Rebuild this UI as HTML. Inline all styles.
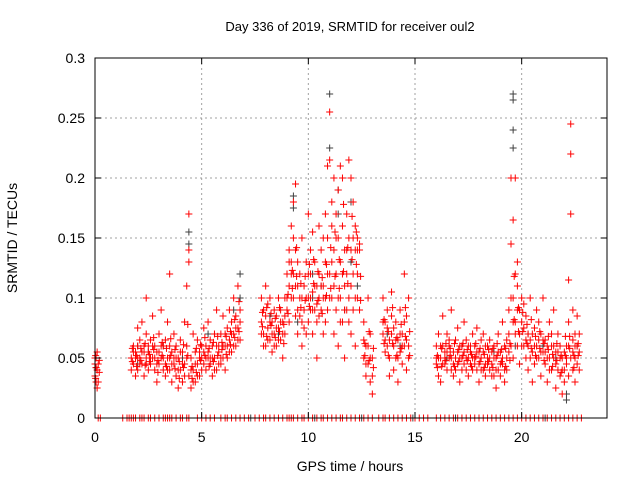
<!DOCTYPE html>
<html><head><meta charset="utf-8">
<style>
html,body{margin:0;padding:0;background:#fff;}
svg{display:block;font-family:"Liberation Sans",sans-serif;}
</style></head>
<body>
<svg id="chart" width="640" height="480" viewBox="0 0 640 480" xmlns="http://www.w3.org/2000/svg">
<text x="350" y="31" font-size="13" text-anchor="middle">Day 336 of 2019, SRMTID for receiver oul2</text>
<text x="350" y="471" font-size="14" text-anchor="middle">GPS time / hours</text>
<text x="17" y="238" font-size="14" text-anchor="middle" transform="rotate(-90 17 238)">SRMTID / TECUs</text>
<g id="grid"></g><g id="marks"></g><g id="axes"></g>
</svg>
<script>
const xTicks=[0,5,10,15,20];
const yTicks=[0,0.05,0.1,0.15,0.2,0.25,0.3];
const yTickLabels=["0","0.05","0.1","0.15","0.2","0.25","0.3"];
const redTimes=[0,0.05,0.1,0.15,0.2,1.7,1.8,1.9,2.0,2.1,2.2,2.3,2.4,2.5,2.6,2.7,2.8,2.9,3.0,3.1,3.2,3.3,3.4,3.5,3.6,3.7,3.8,3.9,4.0,4.1,4.2,4.3,4.4,4.5,4.6,4.7,4.8,4.9,5.0,5.1,5.2,5.3,5.4,5.5,5.6,5.7,5.8,5.9,6.0,6.1,6.2,6.3,6.4,6.5,6.6,6.7,6.8,7.8,7.9,8.0,8.1,8.2,8.3,8.4,8.5,8.6,8.7,8.8,8.9,9.0,9.1,9.2,9.3,9.4,9.5,9.6,9.7,9.8,9.9,10.0,10.1,10.2,10.3,10.4,10.5,10.6,10.7,10.8,10.9,11.0,11.1,11.2,11.3,11.4,11.5,11.6,11.7,11.8,11.9,12.0,12.1,12.2,12.3,12.4,12.6,12.7,12.8,12.9,13.0,13.5,13.6,13.7,13.8,13.9,14.0,14.1,14.2,14.3,14.4,14.5,14.6,14.7,16.0,16.1,16.2,16.3,16.4,16.5,16.6,16.7,16.8,16.9,17.0,17.1,17.2,17.3,17.4,17.5,17.6,17.7,17.8,17.9,18.0,18.1,18.2,18.3,18.4,18.5,18.6,18.7,18.8,18.9,19.0,19.1,19.2,19.3,19.4,19.5,19.6,19.7,19.8,19.9,20.0,20.1,20.2,20.3,20.4,20.5,20.6,20.7,20.8,20.9,21.0,21.1,21.2,21.3,21.4,21.5,21.6,21.7,21.8,21.9,22.0,22.1,22.2,22.3,22.4,22.5,22.6,22.7];
const redValues=[[.045,.035,.05],[.05,.03,.042],[.04,.055,.025],[.03,.045],[.038,.048],[.05,.04],[.045,.06,.055],[.055,.035,.05],[.06,.04,.075,.05],[.05,.065,.045],[.045,.08,.055],[.055,.035,.06],[.05,.07,.1,.045],[.04,.06,.055],[.065,.045,.05],[.05,.085,.06],[.04,.06,.05],[.055,.03,.045],[.07,.045,.055],[.05,.09,.06],[.04,.06,.05],[.065,.035,.045],[.05,.08,.04],[.04,.06,.12,.05],[.055,.03,.045],[.045,.07,.05],[.06,.035,.05],[.05,.025,.04],[.04,.065,.055],[.03,.055,.045],[.045,.08,.035],[.06,.11,.05],[.14,.17,.035,.13],[.05,.025,.04],[.04,.07,.03],[.03,.055,.045],[.045,.065,.035],[.05,.035,.055],[.06,.04,.05],[.055,.075,.045],[.04,.06,.05],[.05,.08,.055],[.045,.065,.05],[.06,.035,.05],[.05,.07,.04],[.04,.09,.06],[.055,.06,.045],[.07,.045,.05],[.05,.085,.06],[.06,.04,.07],[.075,.05,.06],[.065,.09,.055],[.055,.08,.07],[.07,.1,.06],[.06,.085,.075],[.075,.11,.065],[.065,.09,.08],[.08,.1,.07],[.07,.09,.06],[.06,.085,.11],[.075,.095,.065],[.065,.1,.08],[.08,.055,.07],[.07,.09,.06],[.085,.06,.075],[.075,.1,.065],[.065,.09,.08],[.08,.05,.07],[.07,.1,.085],[.09,.12,.1],[.11,.14,.08,.13],[.13,.16,.1,.12],[.15,.18,.12,.1],[.195,.11,.14,.085],[.09,.13,.07,.11],[.1,.12,.085],[.08,.15,.06,.1],[.11,.09,.075],[.13,.07,.1],[.1,.17,.08,.12],[.12,.14,.09,.1],[.105,.155,.07,.09],[.09,.13,.11],[.08,.11,.05,.095],[.12,.16,.1,.085],[.09,.14,.11],[.07,.11,.15,.1],[.13,.1,.17,.08],[.15,.21,.09,.12],[.215,.255,.12,.1],[.16,.18,.1,.13],[.2,.14,.07,.11],[.12,.17,.09,.15],[.19,.15,.06,.1],[.21,.13,.1,.08],[.16,.2,.08,.12],[.14,.11,.05,.09],[.17,.12,.09,.14],[.215,.15,.1,.08],[.2,.14,.07,.11],[.18,.12,.09,.15],[.16,.14,.06,.1],[.15,.12,.1,.14],[.14,.09,.145],[.05,.08,.065],[.035,.06,.045],[.045,.1,.06],[.03,.07,.05],[.05,.02,.035],[.07,.1,.08],[.055,.08,.065],[.06,.09,.075],[.05,.035,.065],[.07,.105,.085],[.06,.04,.075],[.08,.05,.065],[.065,.03,.05],[.09,.055,.07],[.07,.045,.06],[.12,.06,.08],[.085,.04,.065],[.06,.1,.05],[.045,.06,.05],[.035,.07,.05],[.05,.03,.06],[.06,.085,.045],[.045,.055,.05],[.07,.04,.055],[.05,.065,.06],[.04,.09,.05],[.055,.035,.045],[.065,.05,.04],[.045,.075,.055],[.05,.03,.06],[.06,.04,.05],[.055,.08,.045],[.04,.065,.05],[.05,.035,.06],[.06,.045,.055],[.07,.05,.04],[.045,.06,.05],[.04,.075,.055],[.055,.03,.045],[.05,.065,.04],[.04,.07,.055],[.06,.035,.045],[.05,.045,.06],[.065,.04,.05],[.045,.055,.035],[.035,.06,.05],[.05,.025,.04],[.04,.07,.055],[.055,.035,.045],[.045,.08,.05],[.06,.03,.04],[.05,.04,.065],[.07,.09,.055],[.145,.2,.06,.1],[.165,.1,.05,.08],[.2,.08,.07,.12],[.11,.13,.06,.09],[.09,.045,.07],[.08,.1,.06],[.06,.095,.075],[.05,.085,.065],[.07,.04,.06],[.065,.1,.05],[.055,.03,.07],[.075,.045,.06],[.06,.09,.05],[.05,.08,.065],[.07,.035,.055],[.055,.1,.065],[.045,.065,.055],[.06,.03,.05],[.05,.08,.04],[.07,.04,.06],[.06,.09,.05],[.045,.025,.055],[.055,.07,.04],[.035,.06,.05],[.05,.02,.04],[.04,.03,.055],[.06,.045,.05],[.08,.115,.035,.06],[.245,.22,.17,.05],[.09,.065,.04,.055],[.07,.05,.03,.06],[.085,.06,.045],[.055,.04,.07]];
const redTimesB=[0.03,1.75,1.95,2.15,2.35,2.55,2.75,2.95,3.15,3.35,3.55,3.75,3.95,4.15,4.35,4.55,4.75,4.95,5.15,5.35,5.55,5.75,5.95,6.15,6.35,6.55,6.75,7.85,8.05,8.25,8.45,8.65,8.85,9.05,9.25,9.45,9.65,9.85,10.05,10.25,10.45,10.65,10.85,11.05,11.25,11.45,11.65,11.85,12.05,12.25,12.45,12.65,12.85,13.05,13.55,13.75,13.95,14.15,14.35,14.55,14.75,16.05,16.25,16.45,16.65,16.85,17.05,17.25,17.45,17.65,17.85,18.05,18.25,18.45,18.65,18.85,19.05,19.25,19.45,19.65,19.85,20.05,20.25,20.45,20.65,20.85,21.05,21.25,21.45,21.65,21.85,22.05,22.25,22.45,22.65];
const redValuesB=[[.033,.052],[.047,.058],[.052,.043],[.058,.048],[.062,.044],[.047,.053],[.057,.067],[.048,.038],[.063,.052],[.043,.058],[.052,.066],[.041,.057],[.047,.033],[.042,.061],[.078,.052],[.043,.033],[.058,.038],[.061,.048],[.052,.067],[.058,.043],[.047,.063],[.052,.068],[.063,.057],[.068,.053],[.072,.061],[.082,.067],[.072,.097],[.088,.076],[.092,.068],[.077,.087],[.083,.067],[.092,.072],[.078,.062],[.103,.087],[.123,.108],[.142,.118],[.112,.092],[.098,.118],[.128,.093],[.112,.132],[.098,.122],[.117,.087],[.128,.102],[.142,.108],[.155,.118],[.132,.108],[.178,.122],[.142,.112],[.168,.132],[.155,.128],[.118,.098],[.062,.052],[.072,.048],[.042,.058],[.082,.062],[.072,.052],[.092,.062],[.067,.052],[.078,.058],[.092,.068],[.072,.052],[.052,.042],[.058,.043],[.062,.048],[.052,.058],[.043,.062],[.057,.047],[.062,.052],[.048,.057],[.053,.043],[.062,.051],[.047,.058],[.053,.042],[.057,.047],[.042,.058],[.052,.062],[.047,.057],[.058,.043],[.062,.048],[.082,.118],[.092,.072],[.072,.088],[.062,.078],[.058,.082],[.068,.052],[.072,.058],[.062,.048],[.057,.068],[.053,.043],[.048,.062],[.052,.038],[.052,.068],[.058,.068],[.052,.042],[.062,.052]];
const blackTimes=[0.05,2.0,2.5,3.2,4.1,4.4,5.3,6.0,6.5,6.8,8.2,8.6,9.3,9.5,10.2,10.6,11.0,11.4,11.7,12.0,12.3,13.7,14.3,16.5,17.2,18.0,18.7,19.6,19.7,20.3,21.0,21.6,22.1,22.6];
const blackValues=[[.042],[.06,.045],[.055],[.06],[.05],[.155,.145],[.07],[.06],[.09],[.12,.1],[.085],[.07],[.185,.175],[.08],[.12,.1],[.11],[.27,.225],[.17,.19],[.09],[.13,.18],[.11],[.07],[.06],[.05],[.06],[.045],[.055],[.27,.265,.24,.225],[.06],[.07],[.06],[.05],[.02,.015],[.06]];
const redZeroTimes=[0.15,0.25,1.3,1.5,1.6,1.7,1.8,1.9,2.1,2.2,2.3,2.5,2.6,2.8,3.0,3.2,3.3,3.4,3.5,3.6,3.8,4.0,4.1,4.3,4.4,4.8,5.0,5.2,5.4,5.6,5.9,6.1,6.2,6.4,6.6,6.8,7.0,7.2,7.5,7.7,7.9,8.0,8.2,8.4,8.6,8.8,9.0,9.1,9.2,9.3,9.5,9.7,9.8,10.0,10.2,10.4,10.6,10.7,10.9,11.1,11.3,11.5,11.6,11.8,12.0,12.2,12.4,12.6,12.8,13.0,13.3,13.5,13.6,13.8,14.0,14.2,14.4,14.6,14.8,15.0,15.2,15.4,15.6,16.0,16.2,16.4,16.6,16.8,17.0,17.2,17.4,17.6,17.8,18.0,18.2,18.4,18.6,18.8,19.0,19.2,19.4,19.6,19.8,20.0,20.2,20.4,20.6,20.8,21.0,21.2,21.4,21.6,21.8,22.0,22.2,22.4,22.6,22.8];
const blackZeroTimes=[7.3,10.3,12.5,14.9,16.9,21.1];

const L=95,R=607,T=58,B=418,XMAX=24,YMAX=0.3;
const NS="http://www.w3.org/2000/svg";
function xs(t){return L+(t/XMAX)*(R-L);}
function ys(v){return B-(v/YMAX)*(B-T);}
function mk(tag,attrs,parent){const e=document.createElementNS(NS,tag);for(const k in attrs)e.setAttribute(k,attrs[k]);parent.appendChild(e);return e;}
const grid=document.getElementById('grid'),marks=document.getElementById('marks'),axes=document.getElementById('axes');
yTicks.forEach((v,i)=>{
  const y=ys(v);
  if(v>0&&v<YMAX){const g=mk('line',{x1:L,x2:R,y1:y,y2:y,stroke:'#a0a0a0','stroke-dasharray':'2,3','stroke-width':1},grid);
  
  }
  mk('line',{x1:L,x2:L+6,y1:y,y2:y,stroke:'#000'},axes);
  mk('line',{x1:R,x2:R-6,y1:y,y2:y,stroke:'#000'},axes);
  const t=mk('text',{x:L-10,y:y+5,'font-size':14,'text-anchor':'end'},axes);
  t.textContent=yTickLabels[i];
  
  
});
xTicks.forEach(v=>{
  const x=xs(v);
  if(v>0){const g=mk('line',{x1:x,x2:x,y1:T,y2:B,stroke:'#a0a0a0','stroke-dasharray':'2,3','stroke-width':1},grid);
  
  }
  mk('line',{x1:x,x2:x,y1:B,y2:B-6,stroke:'#000'},axes);
  mk('line',{x1:x,x2:x,y1:T,y2:T+6,stroke:'#000'},axes);
  const t=mk('text',{x:x,y:B+24,'font-size':14,'text-anchor':'middle'},axes);
  t.textContent=String(v);
  
  
});
const frame=mk('rect',{x:L,y:T,width:R-L,height:B-T,fill:'none',stroke:'#000','stroke-width':1},axes);


function plus(t,v,color,name){
  const x=xs(t),y=ys(v);
  const p=mk('path',{d:`M${x-3.5},${y}h7M${x},${y-3.5}v7`,stroke:color,'stroke-width':1,fill:'none'},marks);
  
  
}
blackTimes.forEach((t,i)=>blackValues[i].forEach(v=>plus(t,v,'#404040','black-point')));
blackZeroTimes.forEach(t=>plus(t,0,'#404040','black-zero-point'));
redTimes.forEach((t,i)=>redValues[i].forEach(v=>plus(t,v,'#ff0000','red-point')));
redTimesB.forEach((t,i)=>redValuesB[i].forEach(v=>plus(t,v,'#ff0000','red-point')));
redZeroTimes.forEach(t=>plus(t,0,'#ff0000','red-zero-point'));
</script>
</body></html>
